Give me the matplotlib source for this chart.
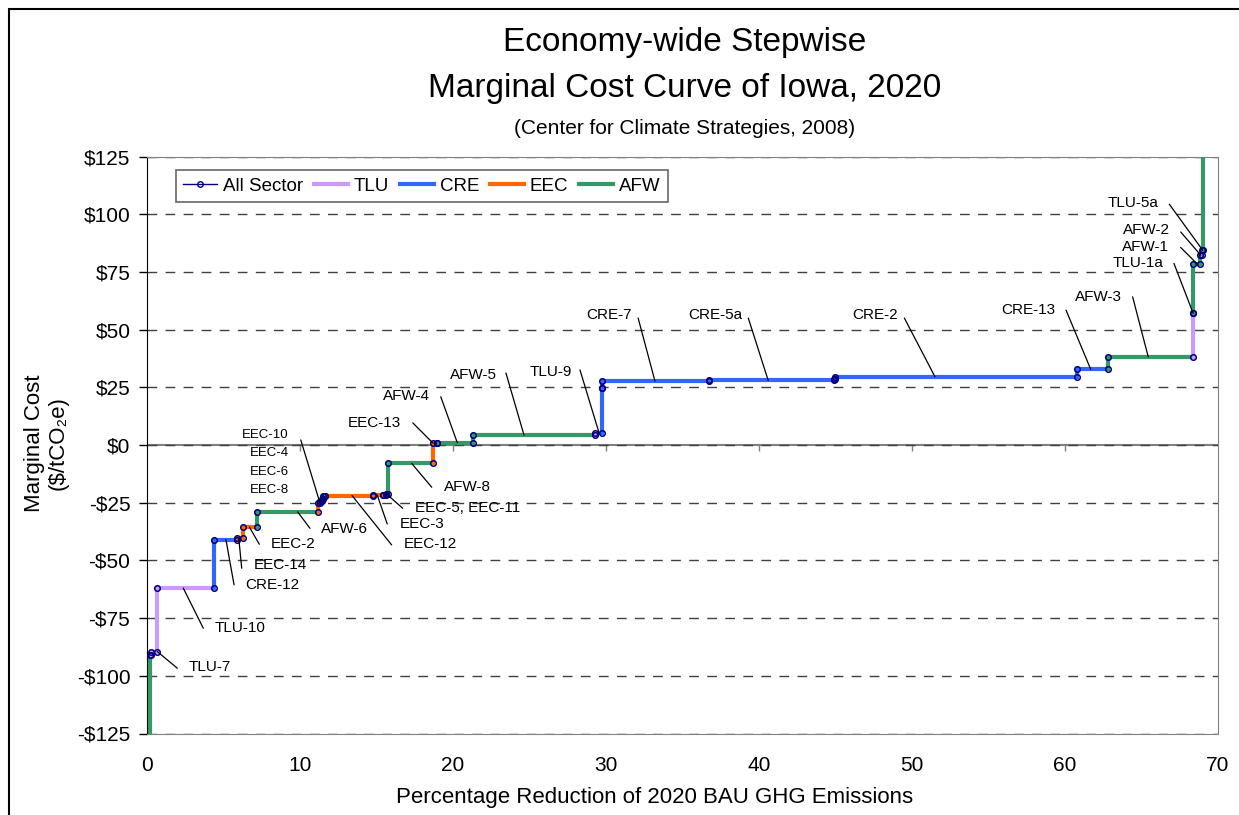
import numpy as np
import matplotlib
matplotlib.use('Agg')
import matplotlib.pyplot as plt
from matplotlib.lines import Line2D
from matplotlib.patches import Rectangle
from matplotlib.ticker import FuncFormatter, MultipleLocator

plt.rcParams['font.family'] = ['Liberation Sans', 'DejaVu Sans']

# measures in merit order: name, sector, width (% of BAU), cost ($/tCO2e)
names = ['', '', 'TLU-7', 'TLU-10', 'CRE-12', 'EEC-14', 'EEC-2', 'AFW-6',
         'EEC-10', 'EEC-4', 'EEC-6', 'EEC-8', 'EEC-12', 'EEC-3', 'EEC-5', 'EEC-11',
         'AFW-8', 'EEC-13', 'AFW-4', 'AFW-5', 'TLU-9', '', 'CRE-7', 'CRE-5a', '',
         'CRE-2', 'CRE-13', 'AFW-3', 'TLU-1a', 'AFW-1', 'AFW-2', 'TLU-5a', '']
sectors = ['AFW', 'AFW', 'TLU', 'TLU', 'CRE', 'EEC', 'EEC', 'AFW',
           'EEC', 'EEC', 'EEC', 'EEC', 'EEC', 'EEC', 'EEC', 'EEC',
           'AFW', 'EEC', 'AFW', 'AFW', 'TLU', 'CRE', 'CRE', 'CRE', 'CRE',
           'CRE', 'CRE', 'AFW', 'TLU', 'AFW', 'AFW', 'TLU', 'AFW']
widths = [0.20, 0.03, 0.44, 3.73, 1.50, 0.35, 0.91, 4.04,
          0.10, 0.12, 0.10, 0.13, 3.15, 0.65, 0.15, 0.17,
          2.90, 0.26, 2.35, 8.00, 0.44, 0.02, 6.96, 8.20, 0.05,
          15.81, 2.04, 5.58, 0.01, 0.45, 0.11, 0.09, 0.30]
costs = [-150, -91, -89.5, -62, -41, -40.5, -35.5, -29,
         -25, -24.2, -23.4, -22.3, -21.9, -21.7, -21.5, -21.3,
         -8, 0.7, 1.0, 4.3, 5.4, 24.5, 27.7, 28.0, 28.8,
         29.6, 32.8, 38.2, 57.0, 78.4, 82.2, 84.4, 160]

sector_names = ['TLU', 'CRE', 'EEC', 'AFW']
sector_colors = {'TLU': '#CC99FF', 'CRE': '#3366FF', 'EEC': '#FF6600', 'AFW': '#339966'}

x_end = np.cumsum(widths)
x_start = x_end - np.array(widths)
prev = [costs[0]] + costs[:-1]

fig = plt.figure(figsize=(12.39, 8.15), dpi=100)
ax = fig.add_axes([147 / 1239, 81.5 / 815, 1071 / 1239, 577 / 815])

# all-sector line underneath, coloured sector steps on top
px, py = [], []
mx, my = [], []
for x0, x1, p, c in zip(x_start, x_end, prev, costs):
    px += [x0, x0, x1]
    py += [p, c, c]
    mx += [x0, x1]
    my += [c, c]
ax.plot(px, py, color='#000080', lw=0.8, zorder=3)
for x0, x1, p, c, s in zip(x_start, x_end, prev, costs, sectors):
    ax.plot([x0, x0, x1], [p, c, c], color=sector_colors[s], lw=3, zorder=4,
            solid_joinstyle='miter')
ax.plot(mx, my, ls='none', marker='o', ms=4, mfc='none', mec='#000080', mew=1.1, zorder=5)

ax.set_xlim(0, 70)
ax.set_ylim(-125, 125)
ax.yaxis.set_major_locator(MultipleLocator(25))
ax.xaxis.set_major_locator(MultipleLocator(10))
ax.yaxis.set_major_formatter(FuncFormatter(
    lambda v, pos: ('-$%d' % abs(v)) if v < 0 else ('$%d' % v)))
ax.tick_params(axis='y', direction='out', length=6, width=1, pad=6, labelsize=15)
ax.tick_params(axis='x', length=0, pad=16, labelsize=15)

for side in ['top', 'right', 'bottom']:
    ax.spines[side].set_color('#808080')
ax.spines['left'].set_color('black')

ax.yaxis.grid(True, color='#404040', lw=1, linestyle=(0, (7, 6)), zorder=1)
ax.set_axisbelow(True)
ax.axhline(0, color='#808080', lw=1.5, zorder=0.5)
ax.vlines(np.arange(10, 70, 10), -2.8, 0, color='#808080', lw=1, zorder=0.5)

# labels with leader lines: text, measure, point x, line start (x, y), text pos (x, y), ha
notes = [
    ('TLU-7', 'TLU-7', 0.67, (1.98, -96.7), (2.7, -96.3), 'left'),
    ('TLU-10', 'TLU-10', 2.37, (3.68, -79.4), (4.4, -79.4), 'left'),
    ('CRE-12', 'CRE-12', 5.16, (5.69, -60.6), (6.4, -60.6), 'left'),
    ('EEC-14', 'EEC-14', 6.0, (6.19, -53.4), (7.0, -51.8), 'left'),
    ('EEC-2', 'EEC-2', 6.69, (7.34, -43.0), (8.1, -43.0), 'left'),
    ('AFW-6', 'AFW-6', 9.85, (10.65, -36.1), (11.4, -36.4), 'left'),
    ('EEC-12', 'EEC-12', 13.4, (15.99, -43.3), (16.8, -43.0), 'left'),
    ('EEC-3', 'EEC-3', 15.05, (15.7, -34.2), (16.5, -34.2), 'left'),
    ('EEC-5, EEC-11', 'EEC-11', 15.67, (16.71, -27.4), (17.5, -27.1), 'left'),
    ('AFW-8', 'AFW-8', 17.3, (18.61, -18.3), (19.4, -18.2), 'left'),
    ('EEC-13', 'EEC-13', 18.71, (17.37, 9.6), (16.6, 9.6), 'right'),
    ('AFW-4', 'AFW-4', 20.28, (19.2, 20.9), (18.5, 21.2), 'right'),
    ('AFW-5', 'AFW-5', 24.64, (23.46, 31.2), (22.9, 30.5), 'right'),
    ('TLU-9', 'TLU-9', 29.54, (28.3, 32.5), (27.8, 31.8), 'right'),
    ('CRE-7', 'CRE-7', 33.2, (32.1, 55.0), (31.7, 56.3), 'right'),
    ('CRE-5a', 'CRE-5a', 40.6, (39.3, 55.0), (38.9, 56.3), 'right'),
    ('CRE-2', 'CRE-2', 51.5, (49.5, 55.0), (49.1, 56.3), 'right'),
    ('CRE-13', 'CRE-13', 61.68, (60.07, 58.4), (59.35, 58.4), 'right'),
    ('AFW-3', 'AFW-3', 65.44, (64.42, 64.2), (63.73, 64.2), 'right'),
    ('TLU-1a', 'TLU-1a', 68.38, (67.12, 78.7), (66.47, 78.8), 'right'),
    ('AFW-1', 'AFW-1', 68.65, (67.56, 85.6), (66.8, 85.7), 'right'),
    ('AFW-2', 'AFW-2', 68.88, (67.56, 92.3), (66.86, 93.0), 'right'),
    ('TLU-5a', 'TLU-5a', 69.0, (66.82, 104.3), (66.14, 104.9), 'right'),
]
for text, m, x, start, tpos, ha in notes:
    y = costs[names.index(m)]
    ax.annotate('', xy=(x, y), xytext=start,
                arrowprops=dict(arrowstyle='-', color='black', lw=0.9,
                                shrinkA=0, shrinkB=0), zorder=6)
    ax.text(tpos[0], tpos[1], text, ha=ha, va='center', fontsize=11, zorder=6)

# stacked small labels for the EEC cluster
stack = ['EEC-10', 'EEC-4', 'EEC-6', 'EEC-8']
stack_y = [4.3, -3.6, -11.8, -19.5]
for t, y in zip(stack, stack_y):
    ax.text(9.25, y, t, ha='right', va='center', fontsize=9.5, zorder=6)
ax.annotate('', xy=(11.3, costs[names.index('EEC-10')]), xytext=(10.05, 2.2),
            arrowprops=dict(arrowstyle='-', color='black', lw=0.9, shrinkA=0, shrinkB=0),
            zorder=6)

handles = [Line2D([], [], color='#000080', lw=1, marker='o', ms=4, mfc='none',
                  mec='#000080', label='All Sector')]
for s in sector_names:
    handles.append(Line2D([], [], color=sector_colors[s], lw=3, label=s))
leg = ax.legend(handles=handles, loc='upper left', bbox_to_anchor=(0.027, 0.9766),
                ncol=5, fontsize=13.5, frameon=True, fancybox=False, borderaxespad=0,
                handlelength=1.8, handletextpad=0.3, columnspacing=0.6,
                borderpad=0.4)
leg.get_frame().set_edgecolor('#404040')
leg.get_frame().set_linewidth(1.2)

fig.text(685 / 1239, 1 - 43 / 815, 'Economy-wide Stepwise', ha='center', va='center', fontsize=24)
fig.text(685 / 1239, 1 - 88 / 815, 'Marginal Cost Curve of Iowa, 2020', ha='center', va='center', fontsize=24)
fig.text(685 / 1239, 1 - 128 / 815, '(Center for Climate Strategies, 2008)', ha='center', va='center', fontsize=15)
fig.text(46 / 1239, 1 - 443 / 815, 'Marginal Cost\n($/tCO\u2082e)', rotation=90, ha='center', va='center',
         fontsize=16, multialignment='center', linespacing=1.15)
fig.text(655 / 1239, 1 - 797 / 815, 'Percentage Reduction of 2020 BAU GHG Emissions',
         ha='center', va='center', fontsize=16)

fig.add_artist(Rectangle((9 / 1239, -0.1), 1.2, 1.1 - 9 / 815, transform=fig.transFigure,
                         fill=False, edgecolor='black', lw=1.5))

fig.savefig('out.png', dpi=100)
